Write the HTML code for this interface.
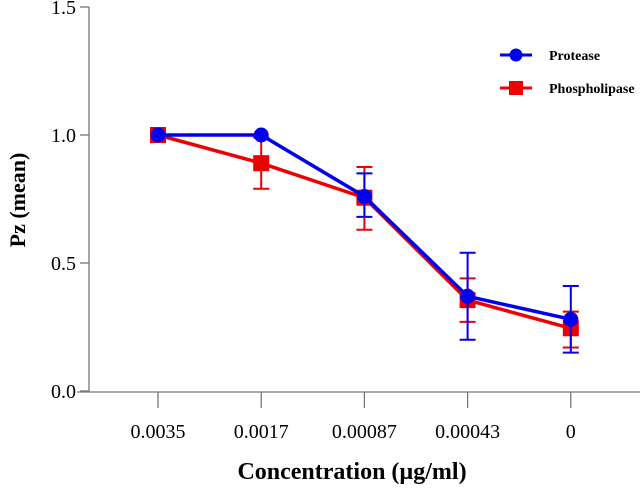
<!DOCTYPE html>
<html><head><meta charset="utf-8"><style>
body{margin:0;background:#fff;}
svg text{font-family:"Liberation Serif",serif;}
</style></head><body>
<svg id="chart" width="644" height="491" viewBox="0 0 644 491" xmlns="http://www.w3.org/2000/svg">
<g id="axes"></g>
<g id="series"></g>
<text transform="translate(25,200) rotate(-90)" text-anchor="middle" font-size="22" font-weight="bold">Pz (mean)</text>
<text x="352" y="479" text-anchor="middle" font-size="24" font-weight="bold">Concentration (µg/ml)</text>
<g>
<g>
<line x1="500" y1="55" x2="532" y2="55" stroke="#0000ee" stroke-width="3"/>
<circle cx="516" cy="55" r="6.5" fill="#0000ee"/>
<text x="549" y="60" font-size="14" font-weight="bold">Protease</text>
</g>
<g>
<line x1="500" y1="88" x2="532" y2="88" stroke="#ee0000" stroke-width="3"/>
<rect x="509" y="81" width="14" height="14" fill="#ee0000"/>
<text x="549" y="93" font-size="14" font-weight="bold">Phospholipase</text>
</g>
</g>
</svg>
<script>
const categories=["0.0035","0.0017","0.00087","0.00043","0"];
const proteaseValues=[1.0,1.0,0.76,0.37,0.28];
const proteaseLow=[1.0,1.0,0.68,0.20,0.15];
const proteaseHigh=[1.0,1.0,0.85,0.54,0.41];
const phosphoValues=[1.0,0.89,0.755,0.355,0.245];
const phosphoLow=[1.0,0.79,0.63,0.27,0.17];
const phosphoHigh=[1.0,0.99,0.875,0.44,0.31];
const yTicks=[0.0,0.5,1.0,1.5];
const yTickLabels=["0.0","0.5","1.0","1.5"];

const NS="http://www.w3.org/2000/svg";
function y(v){return 391-v*256;}
function x(i){return 158+i*103.2;}
function mk(tag,attrs,parent){const e=document.createElementNS(NS,tag);for(const k in attrs)e.setAttribute(k,attrs[k]);parent.appendChild(e);return e;}
const axes=document.getElementById('axes');
const series=document.getElementById('series');
let l=mk('line',{x1:89,y1:7,x2:89,y2:392,stroke:'#777','stroke-width':1.3},axes);


l=mk('line',{x1:77,y1:392,x2:640,y2:392,stroke:'#777','stroke-width':1.3},axes);


yTicks.forEach((v,i)=>{
  const t=mk('line',{x1:80,y1:y(v),x2:89,y2:y(v),stroke:'#777','stroke-width':1.3},axes);
  
  
  const tx=mk('text',{x:76,y:y(v)+7,'text-anchor':'end','font-size':20},axes);
  tx.textContent=yTickLabels[i];
  
  
});
categories.forEach((c,i)=>{
  const t=mk('line',{x1:x(i),y1:392,x2:x(i),y2:408,stroke:'#777','stroke-width':1.3},axes);
  
  
  const tx=mk('text',{x:x(i),y:438,'text-anchor':'middle','font-size':20},axes);
  tx.textContent=c;
  
  
});
function drawSeries(vals,lo,hi,color,shape,name){
  const g=mk('g',{},series);
  
  
  vals.forEach((v,i)=>{
    if(hi[i]-lo[i]<0.001)return;
    const eb=mk('path',{d:`M${x(i)},${y(lo[i])}V${y(hi[i])}M${x(i)-8},${y(lo[i])}h16M${x(i)-8},${y(hi[i])}h16`,stroke:color,'stroke-width':2,fill:'none'},g);
    
    
  });
  const ln=mk('polyline',{points:vals.map((v,i)=>x(i)+','+y(v)).join(' '),stroke:color,'stroke-width':3.5,fill:'none'},g);
  
  
  vals.forEach((v,i)=>{
    let m;
    if(shape==='circle')m=mk('circle',{cx:x(i),cy:y(v),r:7.5,fill:color},g);
    else m=mk('rect',{x:x(i)-8,y:y(v)-8,width:16,height:16,fill:color},g);
    
    
  });
}
drawSeries(phosphoValues,phosphoLow,phosphoHigh,'#ee0000','square','phospholipase');
drawSeries(proteaseValues,proteaseLow,proteaseHigh,'#0000ee','circle','protease');
</script>
</body></html>
